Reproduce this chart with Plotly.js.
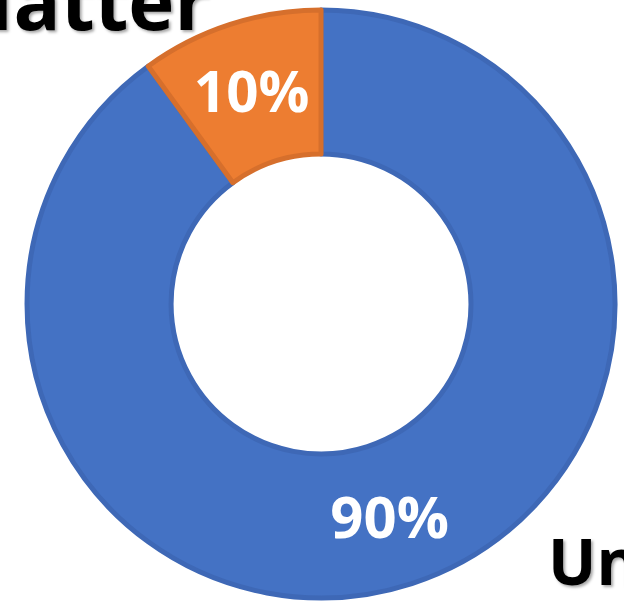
<!DOCTYPE html>
<html>
<head>
<meta charset="utf-8">
<script src="https://cdn.plot.ly/plotly-3.0.1.min.js"></script>
<style>html,body{margin:0;padding:0;background:#fff;}#chart{width:624px;height:603px;}</style>
</head>
<body>
<div id="chart"></div>
<script>
const labels = ["Unknown", "Dark Matter"];
const values = [90, 10];
const colors = ["#4472C4", "#ED7D31"];
const borderColors = ["#3E68B6", "#D66F2C"];

const data = [{
  type: "pie",
  labels: labels,
  values: values,
  sort: false,
  direction: "clockwise",
  rotation: 0,
  hole: 0.51,
  marker: { colors: colors, line: { color: borderColors, width: 5 } },
  textinfo: "percent",
  texttemplate: "%{percent:.0%}",
  textposition: "inside",
  insidetextorientation: "horizontal",
  textfont: { family: "Open Sans, sans-serif", size: 58, color: "#ffffff", weight: "bold" },
  domain: { x: [0.0433, 0.9856], y: [0.0083, 0.9834] },
  showlegend: false,
  hoverinfo: "none"
}];

const layout = {
  width: 624, height: 603,
  margin: { l: 0, r: 0, t: 0, b: 0 },
  paper_bgcolor: "#ffffff",
  showlegend: false,
  annotations: [
    { text: "Matter", xref: "paper", yref: "paper", x: 212/624, y: 1.0,
      xanchor: "right", yanchor: "middle", showarrow: false,
      font: { family: "Open Sans, sans-serif", size: 78, color: "#000000", weight: "bold", shadow: "2px 2px 3px rgba(0,0,0,0.35)" } },
    { text: "Unknown", xref: "paper", yref: "paper", x: 546/624, y: 1 - 560/603,
      xanchor: "left", yanchor: "middle", showarrow: false,
      font: { family: "Open Sans, sans-serif", size: 64, color: "#000000", weight: "bold", shadow: "2px 2px 3px rgba(0,0,0,0.35)" } }
  ]
};

Plotly.newPlot("chart", data, layout, { displayModeBar: false, staticPlot: true });
</script>
</body>
</html>
